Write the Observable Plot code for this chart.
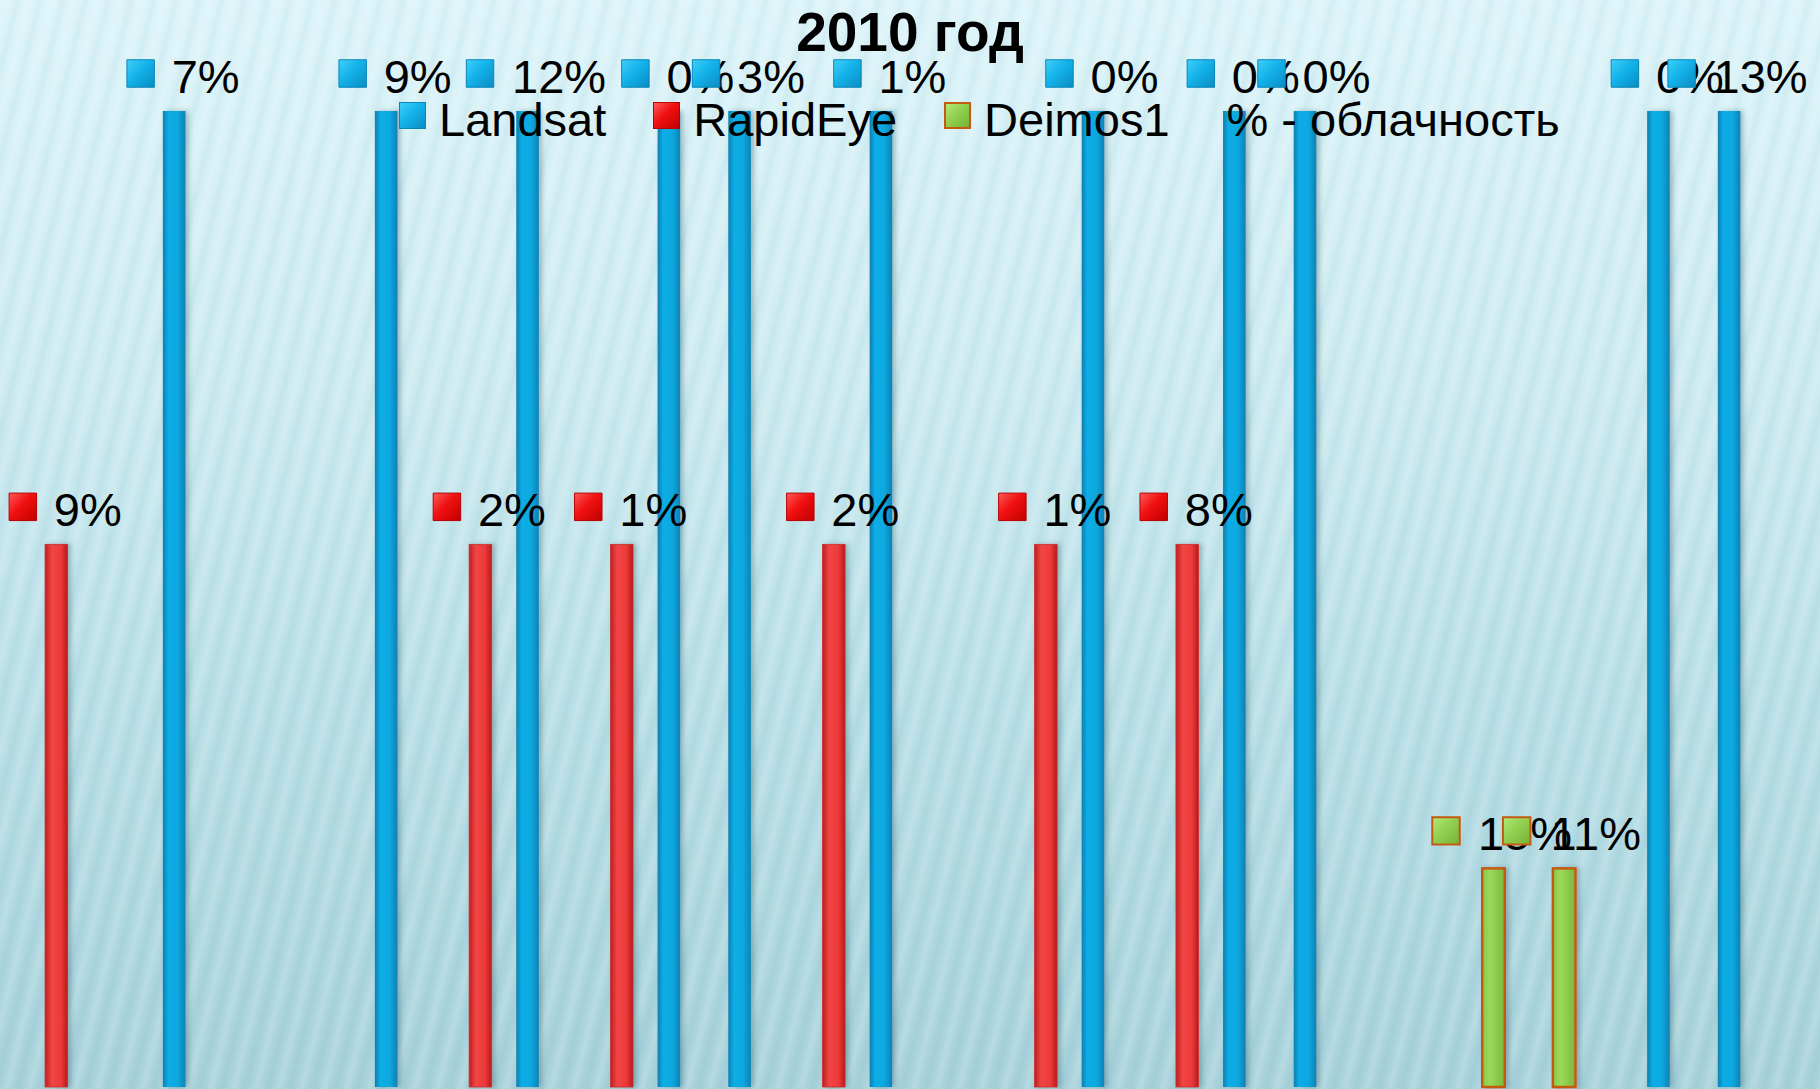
<!DOCTYPE html>
<html>
<head>
<meta charset="utf-8">
<script src="https://cdn.jsdelivr.net/npm/d3@7"></script>
<script src="https://cdn.jsdelivr.net/npm/@observablehq/plot@0.6"></script>
<style>
  html, body { margin: 0; padding: 0; }
  body {
    width: 1820px; height: 1089px; overflow: hidden; position: relative;
    font-family: "Liberation Sans", Arial, sans-serif;
    background:
      repeating-linear-gradient(104deg, rgba(255,255,255,0.0) 0px, rgba(255,255,255,0.16) 6px, rgba(255,255,255,0.0) 12px, rgba(40,110,130,0.05) 17px, rgba(255,255,255,0.0) 22px),
      linear-gradient(to bottom, #dcf4f9 0%, #cdebf1 35%, #b9dfe7 65%, #a8d2db 100%);
  }
  #chart { position: absolute; left: 0; top: 0; }
  #title {
    position: absolute; left: 0; width: 1820px; top: 5px; text-align: center;
    font-size: 55px; line-height: 55px; font-weight: bold; color: #000;
  }
  #legend {
    position: absolute; left: 399px; top: 96px; display: flex; align-items: flex-start;
    font-size: 47px; line-height: 47px; color: #000; white-space: nowrap;
  }
  .item { display: flex; align-items: flex-start; margin-right: 47px; }
  .key { width: 27px; height: 27px; margin-top: 6px; margin-right: 13px; box-sizing: border-box; }
  .key.blue { background: linear-gradient(135deg, #3fd0f7 0%, #13b2ea 45%, #0a8cc2 100%); border: 1px solid #0a86b8; }
  .key.red { background: linear-gradient(135deg, #ff5a5a 0%, #f01010 45%, #c00000 100%); border: 1px solid #b80000; }
  .key.green { background: linear-gradient(135deg, #b4e878 0%, #92d050 45%, #74b236 100%); border: 2px solid #c55a11; }
  .item.note { margin-left: 10px; }
</style>
</head>
<body>
<div id="chart"></div>
<div id="title">2010 год</div>
<div id="legend"></div>
<script>
// ---- data ----
const series = ["Landsat", "RapidEye", "Deimos1"];
const days = ["1","2","3","4","5","6","7","8","9","10","11","12","13","14","15","16","17","18","19","20","21","22","23","24","25"];
const seriesLevel = [100, 55.6, 22.4];

const landsatDays  = ["3","6","8","10","11","13","16","18","19","24","25"];
const landsatCloud = [7, 9, 12, 0, 3, 1, 0, 0, 0, 0, 13];
const rapidEyeDays  = ["1","7","9","12","15","17"];
const rapidEyeCloud = [9, 2, 1, 2, 1, 8];
const deimosDays  = ["21","22"];
const deimosCloud = [15, 11];
const legendNote = "% - облачность";

// ---- table ----
const obs = [
  [landsatDays, landsatCloud],
  [rapidEyeDays, rapidEyeCloud],
  [deimosDays, deimosCloud]
];
const rows = [];
obs.forEach(([ds, cs], si) => ds.forEach((d, i) => rows.push({
  day: d, series: series[si], key: d + "|" + series[si], level: seriesLevel[si], cloud: cs[i], label: cs[i] + "%"
})));
const keys = [];
days.forEach(d => series.forEach(s => keys.push(d + "|" + s)));

const style = {
  Landsat:  {bar: "url(#gBlue)",  key: "url(#kBlue)",  stroke: "none", keyStroke: "#0a86b8", sw: 0},
  RapidEye: {bar: "url(#gRed)",   key: "url(#kRed)",   stroke: "#c83030", keyStroke: "#b80000", sw: 0.8},
  Deimos1:  {bar: "url(#gGreen)", key: "url(#kGreen)", stroke: "#c55a11", keyStroke: "#c55a11", sw: 2.5}
};

const marks = [];
series.forEach(s => {
  const st = style[s];
  marks.push(Plot.barY(rows.filter(d => d.series === s), {
    x: "key", y: "level", fill: st.bar, stroke: st.stroke, strokeWidth: st.sw, insetLeft: 0.5, insetRight: 0.5
  }));
});
marks.push(Plot.text(rows, {
  x: "key", y: "level", text: "label", dx: 31, dy: -34, fontSize: 47, fill: "#000", textAnchor: "middle"
}));
series.forEach(s => {
  const st = style[s];
  [[2, -34], [3, -48]].forEach(([len, off]) => {
    marks.push(Plot.dot(rows.filter(d => d.series === s && d.label.length === len), {
      x: "key", y: "level", dx: off, dy: -38, symbol: "square", r: 15.5,
      fill: st.key, stroke: st.keyStroke, strokeWidth: s === "Deimos1" ? 2 : 1
    }));
  });
});

const svg = Plot.plot({
  width: 1820, height: 1089,
  marginTop: 111, marginBottom: 2, marginLeft: 21, marginRight: 32,
  x: {domain: keys, padding: 0, axis: null},
  y: {domain: [0, 100], axis: null},
  style: {background: "transparent", overflow: "visible", fontFamily: "'Liberation Sans', Arial, sans-serif"},
  marks
});

d3.select(svg).insert("defs", ":first-child").html(`
  <linearGradient id="gBlue" x1="0" x2="1" y1="0" y2="0">
    <stop offset="0" stop-color="#0a7fb0"/><stop offset="0.25" stop-color="#10ade6"/>
    <stop offset="0.65" stop-color="#0ea8e0"/><stop offset="1" stop-color="#0a82b4"/>
  </linearGradient>
  <linearGradient id="gRed" x1="0" x2="1" y1="0" y2="0">
    <stop offset="0" stop-color="#bd1f1f"/><stop offset="0.3" stop-color="#f24545"/>
    <stop offset="0.7" stop-color="#ec3a3a"/><stop offset="1" stop-color="#b81a1a"/>
  </linearGradient>
  <linearGradient id="gGreen" x1="0" x2="1" y1="0" y2="0">
    <stop offset="0" stop-color="#88c84a"/><stop offset="0.35" stop-color="#9bd95a"/>
    <stop offset="1" stop-color="#7ab83c"/>
  </linearGradient>
  <linearGradient id="kBlue" x1="0" x2="1" y1="0" y2="1">
    <stop offset="0" stop-color="#3fd0f7"/><stop offset="0.45" stop-color="#13b2ea"/><stop offset="1" stop-color="#0a8cc2"/>
  </linearGradient>
  <linearGradient id="kRed" x1="0" x2="1" y1="0" y2="1">
    <stop offset="0" stop-color="#ff5a5a"/><stop offset="0.45" stop-color="#f01010"/><stop offset="1" stop-color="#c00000"/>
  </linearGradient>
  <linearGradient id="kGreen" x1="0" x2="1" y1="0" y2="1">
    <stop offset="0" stop-color="#b4e878"/><stop offset="0.45" stop-color="#92d050"/><stop offset="1" stop-color="#74b236"/>
  </linearGradient>
  <filter id="shadow" x="-50%" y="-5%" width="200%" height="110%">
    <feDropShadow dx="3" dy="0" stdDeviation="2.5" flood-color="#2a5560" flood-opacity="0.35"/>
  </filter>
`);
d3.select(svg).selectAll("g[aria-label='bar']").attr("filter", "url(#shadow)");
document.getElementById("chart").appendChild(svg);

// legend
const legend = document.getElementById("legend");
const keyClass = {Landsat: "blue", RapidEye: "red", Deimos1: "green"};
series.forEach(s => {
  const it = document.createElement("div");
  it.className = "item";
  it.innerHTML = `<div class="key ${keyClass[s]}"></div><span>${s}</span>`;
  legend.appendChild(it);
});
const note = document.createElement("div");
note.className = "item note";
note.textContent = legendNote;
legend.appendChild(note);
</script>
</body>
</html>
